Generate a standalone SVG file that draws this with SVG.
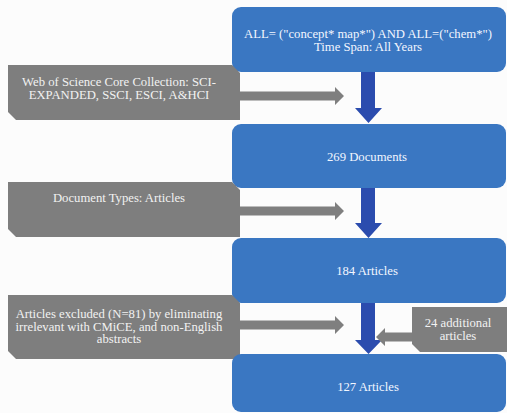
<svg xmlns="http://www.w3.org/2000/svg" width="507" height="413" viewBox="0 0 507 413">
<defs>
<style>
.bg{fill:#fcfcfc}
.blue{fill:#3a77c2}
.gray{fill:#7e7e7e}
.down{fill:#2b4cae}
.garrow{fill:#7f7f7f}
text{font-family:"Liberation Serif","Times New Roman",serif;font-size:12.7px;text-anchor:middle}
.bt{fill:#f2f6ff}
.gt{fill:#f2f2f2}
</style>
</defs>
<rect class="bg" x="0" y="0" width="507" height="413"/>
<g id="connectors">
<path class="down" d="M361,72 H375 V108 H382 L368.5,123 L355,108 H361 Z"/>
<path class="down" d="M361,188 H375 V223 H382 L368.5,238 L355,223 H361 Z"/>
<path class="down" d="M361,303 H375 V340 H382 L368.5,354 L355,340 H361 Z"/>
<path class="garrow" d="M240,91.5 H335 V87 L344,96 L335,105 V100.5 H240 Z"/>
<path class="garrow" d="M240,206.5 H335 V202 L344,211 L335,220 V215.5 H240 Z"/>
<path class="garrow" d="M240,320.5 H335 V316 L344,325 L335,334 V329.5 H240 Z"/>
<path class="garrow" d="M412,332.5 H385 V328 L376,337 L385,346 V341.5 H412 Z"/>
</g>
<g id="n1">
<rect class="blue" x="232" y="7" width="274" height="65" rx="9"/>
<text class="bt" x="368" y="37.5">ALL= ("concept* map*") AND ALL=("chem*")</text>
<text class="bt" x="368" y="51">Time Span: All Years</text>
</g>
<g id="n2">
<path class="gray" d="M8,65 H232 L240,73 V120 H16 L8,112 Z"/>
<text class="gt" x="119" y="86">Web of Science Core Collection: SCI-</text>
<text class="gt" x="119" y="99">EXPANDED, SSCI, ESCI, A&amp;HCI</text>
</g>
<g id="n3">
<rect class="blue" x="232" y="124" width="274" height="64" rx="9"/>
<text class="bt" x="367" y="161">269 Documents</text>
</g>
<g id="n4">
<path class="gray" d="M8,182 H232 L240,190 V237 H16 L8,229 Z"/>
<text class="gt" x="119" y="202">Document Types: Articles</text>
</g>
<g id="n5">
<rect class="blue" x="232" y="238" width="274" height="65" rx="9"/>
<text class="bt" x="367" y="275">184 Articles</text>
</g>
<g id="n6">
<path class="gray" d="M8,295 H232 L240,303 V359 H16 L8,351 Z"/>
<text class="gt" x="119" y="318">Articles excluded (N=81) by eliminating</text>
<text class="gt" x="119" y="330.5">irrelevant with CMiCE, and non-English</text>
<text class="gt" x="119" y="343">abstracts</text>
</g>
<g id="n7">
<path class="gray" d="M412,307 H507 V352 H420 L412,344 Z"/>
<text class="gt" x="458" y="327">24 additional</text>
<text class="gt" x="458" y="340">articles</text>
</g>
<g id="n8">
<rect class="blue" x="232" y="354" width="274" height="58" rx="9"/>
<text class="bt" x="368" y="391">127 Articles</text>
</g>
</svg>
